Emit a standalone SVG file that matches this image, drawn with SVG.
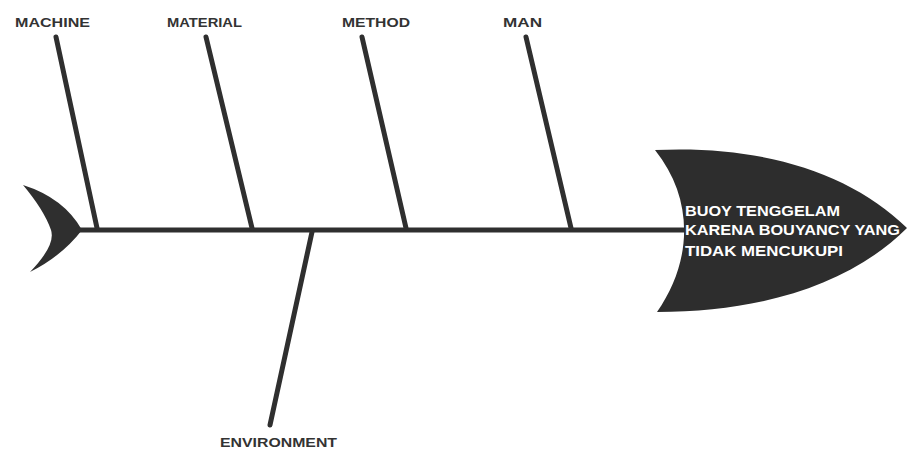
<svg xmlns="http://www.w3.org/2000/svg" width="908" height="452" viewBox="0 0 908 452">
<style>
.bone{stroke:#2f2f2f;stroke-width:5;stroke-linecap:round;fill:none}
.lbl{font-family:"Liberation Sans",Arial,sans-serif;font-weight:bold;font-size:13px;fill:#333}
.head{font-family:"Liberation Sans",Arial,sans-serif;font-weight:bold;font-size:15px;fill:#fff}
</style>
<rect width="908" height="452" fill="#fff"/>
<g id="tail"><path d="M23,185 Q64,198 82,230 Q62,256 30,272 Q56,245 51,230 Q44,210 23,185 Z" fill="#2f2f2f"/></g>
<g id="connectors">
<line class="bone" x1="78" y1="230" x2="690" y2="230"/>
<line class="bone" x1="56" y1="37" x2="97" y2="228"/>
<line class="bone" x1="206" y1="37" x2="252" y2="228"/>
<line class="bone" x1="362" y1="37" x2="406" y2="228"/>
<line class="bone" x1="526" y1="37" x2="571" y2="228"/>
<line class="bone" x1="312" y1="232" x2="270" y2="425"/>
</g>
<g id="head"><path d="M655,150 C760,145 850,172 907,228 C850,285 760,312 657,312 C692,262 695,200 655,150 Z" fill="#2d2d2d"/>
<text class="head" x="685" y="216" textLength="155" lengthAdjust="spacingAndGlyphs">BUOY TENGGELAM</text>
<text class="head" x="685" y="235" textLength="215" lengthAdjust="spacingAndGlyphs">KARENA BOUYANCY YANG</text>
<text class="head" x="685" y="256" textLength="158" lengthAdjust="spacingAndGlyphs">TIDAK MENCUKUPI</text>
</g>
<g id="machine"><text class="lbl" x="15" y="27" textLength="75" lengthAdjust="spacingAndGlyphs">MACHINE</text></g>
<g id="material"><text class="lbl" x="167" y="27" textLength="75" lengthAdjust="spacingAndGlyphs">MATERIAL</text></g>
<g id="method"><text class="lbl" x="342" y="27" textLength="68" lengthAdjust="spacingAndGlyphs">METHOD</text></g>
<g id="man"><text class="lbl" x="503" y="27" textLength="39" lengthAdjust="spacingAndGlyphs">MAN</text></g>
<g id="environment"><text class="lbl" x="220" y="447" textLength="117" lengthAdjust="spacingAndGlyphs">ENVIRONMENT</text></g>
</svg>
